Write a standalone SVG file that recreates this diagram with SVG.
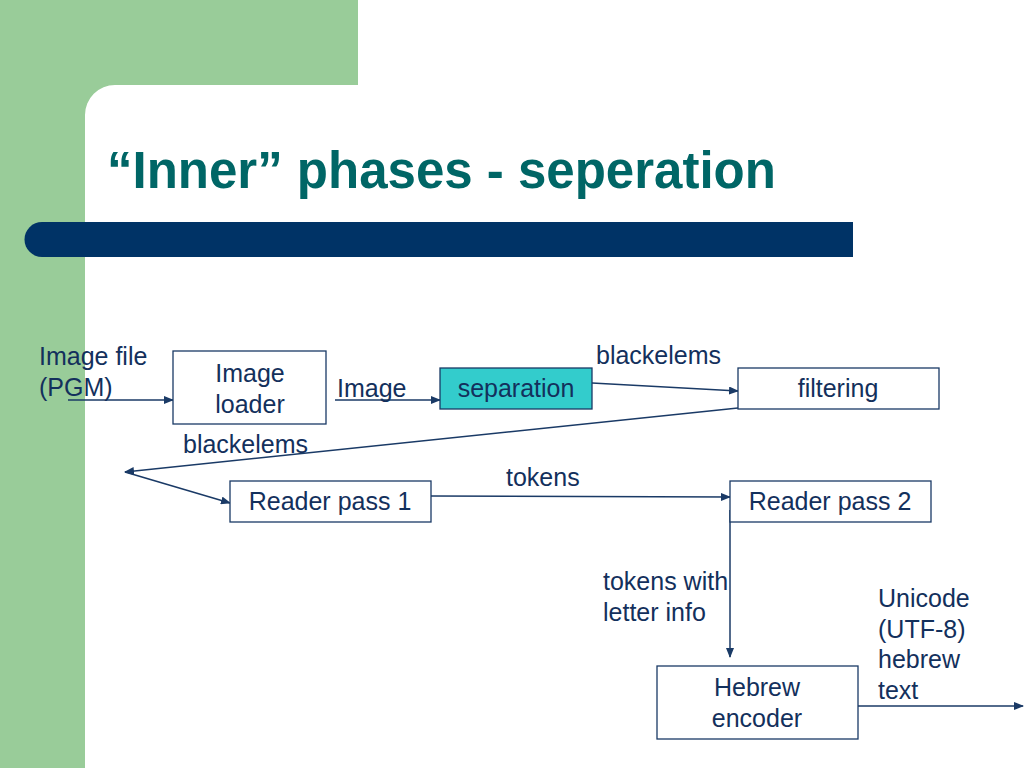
<svg xmlns="http://www.w3.org/2000/svg" width="1024" height="768" viewBox="0 0 1024 768">
<defs>
<marker id="ah" markerWidth="10" markerHeight="8" refX="9" refY="4" orient="auto" markerUnits="userSpaceOnUse">
<path d="M0,0 L10,4 L0,8 Z" fill="#1a3a66"/>
</marker>
<style>
.t{font-family:"Liberation Sans",Arial,sans-serif;font-size:25px;fill:#13305c}
.c{text-anchor:middle}
.box{fill:#ffffff;stroke:#1a3a66;stroke-width:1.3}
.ln{stroke:#1a3a66;stroke-width:1.5;fill:none;marker-end:url(#ah)}
</style>
</defs>
<rect width="1024" height="768" fill="#ffffff"/>
<path d="M0,0 H358 V85 H115 A30,30 0 0 0 85,115 V768 H0 Z" fill="#99cc99"/>
<path d="M42,222 H853 V257 H42 A17.5,17.5 0 0 1 42,222 Z" fill="#003366"/>
<text x="107" y="188" font-family="Liberation Sans,Arial,sans-serif" font-size="51" font-weight="bold" fill="#006666">“Inner” phases - seperation</text>

<g id="connectors">
<line class="ln" x1="68" y1="400" x2="173" y2="400"/>
<line class="ln" x1="335" y1="400" x2="440" y2="400"/>
<line class="ln" x1="592" y1="383" x2="738" y2="391"/>
<line class="ln" x1="738" y1="408" x2="125" y2="472"/>
<line class="ln" x1="125" y1="472" x2="230" y2="503"/>
<line class="ln" x1="431" y1="496" x2="730" y2="497"/>
<line class="ln" x1="730" y1="510" x2="730" y2="657"/>
<line class="ln" x1="858" y1="706" x2="1023" y2="706"/>
</g>

<g id="labels">
<text class="t" x="39" y="365">Image file</text>
<text class="t" x="39" y="396">(PGM)</text>
<text class="t" x="337" y="397">Image</text>
<text class="t" x="596" y="364">blackelems</text>
<text class="t" x="183" y="453">blackelems</text>
<text class="t" x="506" y="486">tokens</text>
<text class="t" x="603" y="590">tokens with</text>
<text class="t" x="603" y="621">letter info</text>
<text class="t" x="878" y="607">Unicode</text>
<text class="t" x="878" y="638">(UTF-8)</text>
<text class="t" x="878" y="668">hebrew</text>
<text class="t" x="878" y="699">text</text>
</g>

<g id="image-loader">
<rect class="box" x="173" y="351" width="153" height="73"/>
<text class="t c" x="250" y="382">Image</text>
<text class="t c" x="250" y="413">loader</text>
</g>
<g id="separation">
<rect class="box" x="440" y="368" width="152" height="41" style="fill:#33cccc"/>
<text class="t c" x="516" y="397">separation</text>
</g>
<g id="filtering">
<rect class="box" x="738" y="368" width="201" height="41"/>
<text class="t c" x="838" y="397">filtering</text>
</g>
<g id="reader-pass-1">
<rect class="box" x="230" y="481" width="201" height="41"/>
<text class="t c" x="330" y="510">Reader pass 1</text>
</g>
<g id="reader-pass-2">
<rect class="box" x="730" y="481" width="201" height="41"/>
<text class="t c" x="830" y="510">Reader pass 2</text>
</g>
<g id="hebrew-encoder">
<rect class="box" x="657" y="666" width="201" height="73"/>
<text class="t c" x="757" y="696">Hebrew</text>
<text class="t c" x="757" y="727">encoder</text>
</g>
</svg>
